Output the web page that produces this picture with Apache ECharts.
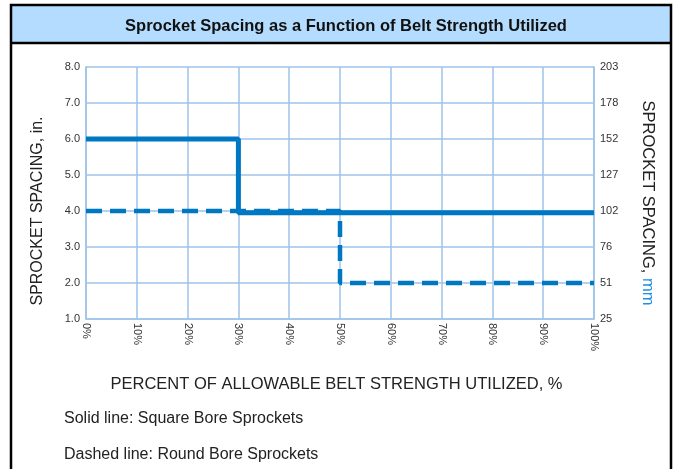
<!DOCTYPE html>
<html>
<head>
<meta charset="utf-8">
<script src="https://cdn.jsdelivr.net/npm/echarts@6/dist/echarts.min.js"></script>
<style>
  html, body { margin: 0; padding: 0; background: #fff; }
  #chart { width: 673px; height: 469px; }
</style>
</head>
<body>
<div id="chart"></div>
<script>
// percent of allowable belt strength, spacing in inches
var squareBore = [[0, 6], [30, 6], [30, 3.95], [100, 3.95]];   // solid
var roundBore = [[0, 4], [50, 4], [50, 2], [100, 2]];          // dashed
var mmLabels = ['25', '51', '76', '102', '127', '152', '178', '203'];

var blue = '#0077c2';
var gridBlue = '#9ec3ea';
var font = 'Liberation Sans, Arial, sans-serif';

var chart = echarts.init(document.getElementById('chart'));
chart.setOption({
  animation: false,
  title: {
    text: 'Sprocket Spacing as a Function of Belt Strength Utilized',
    left: 341, top: 13, textAlign: 'center',
    textStyle: { fontFamily: font, fontSize: 16.5, fontWeight: 'bold', color: '#111' }
  },
  grid: { left: 86, right: 79, top: 67, bottom: 150 },
  xAxis: {
    type: 'value', min: 0, max: 100, interval: 10,
    axisLine: { lineStyle: { color: gridBlue, width: 1.5 } },
    axisTick: { show: false },
    splitLine: { lineStyle: { color: gridBlue, width: 1.5 } },
    axisLabel: {
      rotate: -90, margin: 4, formatter: '{value}%',
      fontFamily: font, fontSize: 11, color: '#333'
    }
  },
  yAxis: [
    {
      type: 'value', min: 1, max: 8, interval: 1,
      axisLine: { show: true, lineStyle: { color: gridBlue, width: 1.5 } },
      axisTick: { show: false },
      splitLine: { lineStyle: { color: gridBlue, width: 1.5 } },
      axisLabel: {
        margin: 6, fontFamily: font, fontSize: 11, color: '#333',
        formatter: function (v) { return v.toFixed(1); }
      }
    },
    {
      type: 'value', min: 1, max: 8, interval: 1, position: 'right',
      axisLine: { show: true, lineStyle: { color: gridBlue, width: 1.5 } },
      axisTick: { show: false },
      splitLine: { show: false },
      axisLabel: {
        margin: 6, fontFamily: font, fontSize: 11, color: '#333',
        formatter: function (v) { return mmLabels[Math.round(v) - 1]; }
      }
    }
  ],
  series: [
    {
      name: 'Square Bore', type: 'line', data: squareBore,
      symbol: 'none', lineStyle: { color: blue, width: 5 }
    },
    {
      name: 'Round Bore', type: 'line', data: roundBore,
      symbol: 'none', lineStyle: { color: blue, width: 4.5, type: [16, 8] }
    }
  ],
  graphic: [
    { type: 'rect', z: -10, shape: { x: 10, y: 5, width: 661, height: 38 },
      style: { fill: '#b4dcfe' } },
    { type: 'polyline', z: 10, shape: { points: [[11, 469], [11, 5], [671, 5], [671, 469]] },
      style: { stroke: '#000', lineWidth: 2.5, fill: null } },
    { type: 'line', z: 10, shape: { x1: 10, y1: 43, x2: 672, y2: 43 },
      style: { stroke: '#000', lineWidth: 2.5 } },
    // left axis name
    { type: 'text', x: 38, y: 211, rotation: Math.PI / 2,
      style: { text: 'SPROCKET SPACING, in.', font: '16px ' + font, fill: '#222',
               align: 'center', verticalAlign: 'middle' } },
    // right axis name, "mm" in blue
    { type: 'text', x: 648, y: 203, rotation: -Math.PI / 2,
      style: { text: '{a|SPROCKET SPACING, }{b|mm}', align: 'center', verticalAlign: 'middle',
               rich: {
                 a: { font: '16.5px ' + font, fill: '#222' },
                 b: { font: '16.5px ' + font, fill: '#1a90e8' }
               } } },
    { type: 'text', left: 'center', top: 376,
      style: { text: 'PERCENT OF ALLOWABLE BELT STRENGTH UTILIZED, %', font: '16.5px ' + font, fill: '#222' } },
    { type: 'text', left: 64, top: 411,
      style: { text: 'Solid line: Square Bore Sprockets', font: '16px ' + font, fill: '#222' } },
    { type: 'text', left: 64, top: 447,
      style: { text: 'Dashed line: Round Bore Sprockets', font: '16px ' + font, fill: '#222' } }
  ]
});
</script>
</body>
</html>
